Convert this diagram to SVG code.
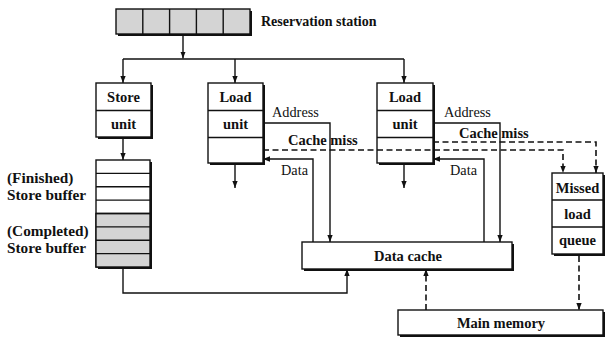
<svg xmlns="http://www.w3.org/2000/svg" width="605" height="338" viewBox="0 0 605 338">
  <style>
    .box { fill: #ffffff; stroke: #111111; stroke-width: 1.4; }
    .gray { fill: #d4d4d4; stroke: #111111; stroke-width: 1.4; }
    .shadow { fill: #111111; }
    .div { stroke: #111111; stroke-width: 1.4; fill: none; }
    .wire { stroke: #111111; stroke-width: 1.4; fill: none; }
    .dash { stroke: #111111; stroke-width: 1.6; fill: none; stroke-dasharray: 6 3.5; }
    .lbl { font-family: "Liberation Serif", "Times New Roman", serif; font-weight: bold; font-size: 14.5px; fill: #111111; }
    .lbl-c { text-anchor: middle; }
    .note { font-family: "Liberation Serif", "Times New Roman", serif; font-size: 14.3px; fill: #111111; }
    .side { font-family: "Liberation Serif", "Times New Roman", serif; font-weight: bold; font-size: 15.3px; fill: #111111; }
  </style>
  <defs>
    <marker id="arrow" viewBox="0 0 10 10" refX="10" refY="5" markerWidth="7" markerHeight="7" markerUnits="userSpaceOnUse" orient="auto">
      <path d="M0,1.2 L10,5 L0,8.8 z" fill="#111111"/>
    </marker>
  </defs>

  <!-- Reservation station: five shaded slots -->
  <g id="reservation-station">
    <rect class="shadow" x="118" y="11" width="134" height="25"/>
    <rect class="gray" x="116" y="9" width="134" height="25"/>
    <path class="div" d="M142.8,9 V34 M169.6,9 V34 M196.4,9 V34 M223.2,9 V34"/>
    <text class="lbl" x="261" y="26" style="font-size:14px">Reservation station</text>
  </g>

  <!-- Store unit -->
  <g id="store-unit">
    <rect class="shadow" x="98" y="85" width="55" height="54"/>
    <rect class="box" x="96" y="83" width="55" height="54"/>
    <path class="div" d="M96,110.5 H151"/>
    <text class="lbl lbl-c" x="123.5" y="102">Store</text>
    <text class="lbl lbl-c" x="123.5" y="129">unit</text>
  </g>

  <!-- Load unit (left) -->
  <g id="load-unit-1">
    <rect class="shadow" x="210" y="85" width="55" height="80"/>
    <rect class="box" x="208" y="83" width="55" height="80"/>
    <path class="div" d="M208,110.5 H263 M208,137.5 H263"/>
    <text class="lbl lbl-c" x="235.5" y="102">Load</text>
    <text class="lbl lbl-c" x="235.5" y="129">unit</text>
  </g>

  <!-- Load unit (right) -->
  <g id="load-unit-2">
    <rect class="shadow" x="379" y="85" width="56" height="80"/>
    <rect class="box" x="377" y="83" width="56" height="80"/>
    <path class="div" d="M377,110.5 H433 M377,137.5 H433"/>
    <text class="lbl lbl-c" x="405" y="102">Load</text>
    <text class="lbl lbl-c" x="405" y="129">unit</text>
  </g>

  <!-- Store buffer: four finished entries, four completed (shaded) entries -->
  <g id="store-buffer">
    <rect class="shadow" x="98" y="162" width="54" height="107"/>
    <rect class="box" x="96" y="160" width="54" height="107"/>
    <rect class="gray" x="96" y="213.5" width="54" height="53.5"/>
    <path class="div" d="M96,173.4 H150 M96,186.8 H150 M96,200.1 H150 M96,213.5 H150 M96,226.9 H150 M96,240.3 H150 M96,253.6 H150"/>
    <text class="side" x="7" y="183">(Finished)</text>
    <text class="side" x="7" y="200">Store buffer</text>
    <text class="side" x="7" y="236">(Completed)</text>
    <text class="side" x="7" y="253">Store buffer</text>
  </g>

  <!-- Data cache -->
  <g id="data-cache">
    <rect class="shadow" x="304" y="244" width="210" height="27"/>
    <rect class="box" x="302" y="242" width="210" height="27"/>
    <text class="lbl lbl-c" x="408" y="261">Data cache</text>
  </g>

  <!-- Missed load queue -->
  <g id="missed-load-queue">
    <rect class="shadow" x="554" y="175" width="51" height="81"/>
    <rect class="box" x="552" y="173" width="51" height="81"/>
    <path class="div" d="M552,200 H603 M552,227 H603"/>
    <text class="lbl lbl-c" x="577.5" y="193">Missed</text>
    <text class="lbl lbl-c" x="577.5" y="219">load</text>
    <text class="lbl lbl-c" x="577.5" y="245">queue</text>
  </g>

  <!-- Main memory -->
  <g id="main-memory">
    <rect class="shadow" x="400" y="312" width="205" height="25"/>
    <rect class="box" x="398" y="310" width="205" height="25"/>
    <text class="lbl lbl-c" x="501" y="328">Main memory</text>
  </g>

  <!-- Connectors -->
  <g id="connectors">
    <!-- issue bus from the reservation station -->
    <path class="wire" d="M183,34 V58.5" marker-end="url(#arrow)"/>
    <path class="wire" d="M123,59 H404"/>
    <path class="wire" d="M123,59 V83" marker-end="url(#arrow)"/>
    <path class="wire" d="M235,59 V83" marker-end="url(#arrow)"/>
    <path class="wire" d="M404,59 V83" marker-end="url(#arrow)"/>
    <!-- store unit to store buffer -->
    <path class="wire" d="M123,139 V160" marker-end="url(#arrow)"/>
    <!-- load results -->
    <path class="wire" d="M235,165 V188" marker-end="url(#arrow)"/>
    <path class="wire" d="M404,165 V188" marker-end="url(#arrow)"/>
    <!-- address and data paths, left load unit -->
    <path class="wire" d="M263,123 H330 V242" marker-end="url(#arrow)"/>
    <path class="wire" d="M313,242 V159 H263" marker-end="url(#arrow)"/>
    <!-- address and data paths, right load unit -->
    <path class="wire" d="M433,123 H500 V242" marker-end="url(#arrow)"/>
    <path class="wire" d="M484,242 V159 H433" marker-end="url(#arrow)"/>
    <!-- cache misses into the missed load queue -->
    <path class="dash" d="M263,150 H563 V173" marker-end="url(#arrow)"/>
    <path class="dash" d="M433,142 H596 V173" marker-end="url(#arrow)"/>
    <!-- completed stores written to the data cache -->
    <path class="wire" d="M123,267 V293 H347 V269" marker-end="url(#arrow)"/>
    <!-- memory traffic -->
    <path class="dash" d="M426,310 V269" marker-end="url(#arrow)"/>
    <path class="dash" d="M579,256 V310" marker-end="url(#arrow)"/>
  </g>

  <!-- Connector labels -->
  <g id="connector-labels">
    <text class="note" x="272" y="117">Address</text>
    <text class="lbl" x="288" y="145">Cache miss</text>
    <text class="note" x="281" y="175">Data</text>
    <text class="note" x="444" y="117">Address</text>
    <text class="lbl" x="459" y="138">Cache miss</text>
    <text class="note" x="450" y="175">Data</text>
  </g>
</svg>
